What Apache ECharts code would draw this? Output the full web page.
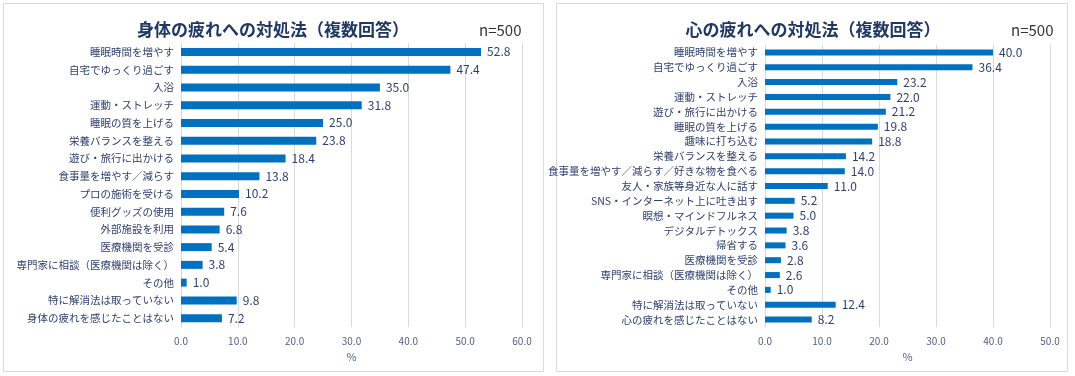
<!DOCTYPE html>
<html><head><meta charset="utf-8">
<script src="https://cdn.jsdelivr.net/npm/echarts@6/dist/echarts.min.js"></script>
<style>html,body{margin:0;padding:0;background:#fff}#c{width:1075px;height:376px}</style>
</head><body><div id="c"></div>
<script>
const leftTitle = '身体の疲れへの対処法（複数回答）';
const rightTitle = '心の疲れへの対処法（複数回答）';
const sampleLabel = 'n=500';
const leftCategories = ['睡眠時間を増やす','自宅でゆっくり過ごす','入浴','運動・ストレッチ','睡眠の質を上げる','栄養バランスを整える','遊び・旅行に出かける','食事量を増やす／減らす','プロの施術を受ける','便利グッズの使用','外部施設を利用','医療機関を受診','専門家に相談（医療機関は除く）','その他','特に解消法は取っていない','身体の疲れを感じたことはない'];
const leftValues = [52.8,47.4,35.0,31.8,25.0,23.8,18.4,13.8,10.2,7.6,6.8,5.4,3.8,1.0,9.8,7.2];
const rightCategories = ['睡眠時間を増やす','自宅でゆっくり過ごす','入浴','運動・ストレッチ','遊び・旅行に出かける','睡眠の質を上げる','趣味に打ち込む','栄養バランスを整える','食事量を増やす／減らす／好きな物を食べる','友人・家族等身近な人に話す','SNS・インターネット上に吐き出す','瞑想・マインドフルネス','デジタルデトックス','帰省する','医療機関を受診','専門家に相談（医療機関は除く）','その他','特に解消法は取っていない','心の疲れを感じたことはない'];
const rightValues = [40.0,36.4,23.2,22.0,21.2,19.8,18.8,14.2,14.0,11.0,5.2,5.0,3.8,3.6,2.8,2.6,1.0,12.4,8.2];
const leftMax = 60, rightMax = 50, tickStep = 10;
const axisUnit = '%';

const font = '"Noto Sans CJK JP", sans-serif';
const navy = '#1f3864';
const barColor = '#0070c0';
const textColor = '#2e3f6e';

function xAxisCfg(gridIndex, max){
  return {
    type:'value', gridIndex, min:0, max, interval:tickStep,
    axisLabel:{formatter:v=>v.toFixed(1), color:'#4e5f85', fontSize:10, fontFamily:font, margin:9},
    axisLine:{show:false}, axisTick:{show:false},
    splitLine:{lineStyle:{color:'#d9d9d9', width:1}},
    name:axisUnit, nameLocation:'middle', nameGap:24,
    nameTextStyle:{color:'#4e5f85', fontSize:11, fontFamily:font}
  };
}
function yAxisCfg(gridIndex, cats){
  return {
    type:'category', gridIndex, data:cats, inverse:true,
    axisLine:{show:true, lineStyle:{color:'#d9d9d9'}}, axisTick:{show:false},
    axisLabel:{color:textColor, fontSize:10.5, fontFamily:font, margin:7}
  };
}
function seriesCfg(idx, vals, barW){
  return {
    type:'bar', xAxisIndex:idx, yAxisIndex:idx, data:vals, barWidth:barW,
    itemStyle:{color:barColor},
    label:{show:true, position:'right', formatter:p=>p.value.toFixed(1), color:textColor, fontSize:12, fontFamily:font, distance:6},
    silent:true
  };
}

const chart = echarts.init(document.getElementById('c'), null, {renderer:'canvas'});
chart.setOption({
  animation:false,
  backgroundColor:'#ffffff',
  graphic:[
    {type:'rect', shape:{x:3.5,y:3.5,width:540,height:368}, style:{fill:'none', stroke:'#d9d9d9', lineWidth:1}},
    {type:'rect', shape:{x:556.5,y:3.5,width:511,height:368}, style:{fill:'none', stroke:'#d9d9d9', lineWidth:1}}
  ],
  title:[
    {text:leftTitle, left:268, top:16, textAlign:'center', textStyle:{fontSize:17, fontWeight:'bold', color:navy, fontFamily:font}},
    {text:sampleLabel, left:474, top:18, textStyle:{fontSize:15, fontWeight:'normal', color:'#333', fontFamily:font}},
    {text:rightTitle, left:808, top:16, textAlign:'center', textStyle:{fontSize:17, fontWeight:'bold', color:navy, fontFamily:font}},
    {text:sampleLabel, left:1006, top:18, textStyle:{fontSize:15, fontWeight:'normal', color:'#333', fontFamily:font}}
  ],
  grid:[
    {left:181, right:553, top:43, bottom:49, containLabel:false},
    {left:765, right:25, top:45, bottom:49, containLabel:false}
  ],
  xAxis:[xAxisCfg(0,leftMax), xAxisCfg(1,rightMax)],
  yAxis:[yAxisCfg(0,leftCategories), yAxisCfg(1,rightCategories)],
  series:[seriesCfg(0,leftValues,8), seriesCfg(1,rightValues,6)]
});
</script></body></html>
